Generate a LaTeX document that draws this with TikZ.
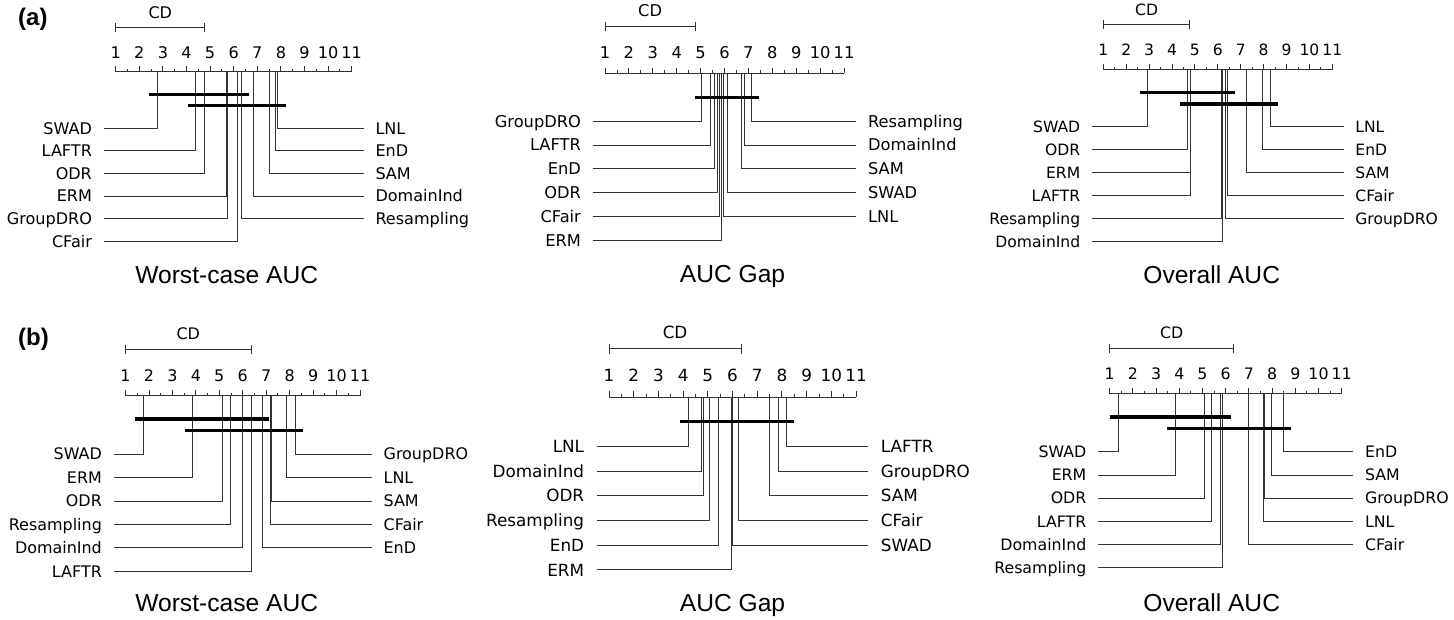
\documentclass[tikz,border=0pt]{standalone}
\usepackage{fontspec}
\setmainfont{Liberation Sans}
\newfontfamily\dejavu{DejaVu Sans}

\tikzset{
  axisline/.style={line width=0.9pt, draw=black!80},
  rankline/.style={line width=0.9pt, draw=black!80},
  cliquebar/.style={line width=3.2pt, draw=black},
  method/.style={inner sep=0pt, text depth=0pt},
  paneltitle/.style={font=\fontsize{24.6}{24.6}\selectfont, inner sep=0pt,
    text height=17.6pt, text depth=0pt},
  panelmark/.style={font=\fontsize{24}{24}\selectfont\bfseries, inner sep=0pt,
    text height=17.2pt, text depth=0pt, anchor=west},
}

% #1 id, #2 origin (rank 0 on the axis), #3 x unit, #4 y unit, #5 CD,
% #6 first row, #7 left methods, #8 right methods, #9 cliques
\newcommand{\cdpanel}[9]{%
  \begin{scope}[shift={(#2)}, x=#3pt, y=-#4pt]
    \pgfmathsetmacro\cdfs{0.68*#3}
    \pgfmathsetmacro\cdth{0.73*\cdfs}
    \tikzset{method/.append style={font={\dejavu\fontsize{\cdfs}{\cdfs}\selectfont},
      text height=\cdth pt}}
    % axis
    \coordinate (#1-lo) at (1,0);
    \coordinate (#1-hi) at (11,0);
    \draw[axisline] (#1-lo) -- (#1-hi);
    \foreach \tk in {1,...,11} {
      \draw[axisline] (\tk,0) -- (\tk,-0.24);
      \node[method] (#1-t\tk) at (\tk,-0.86) {\tk};
    }
    \foreach \tk in {1.5,2.5,...,10.5}
      \draw[axisline] (\tk,0) -- (\tk,-0.12);
    % critical difference
    \coordinate (#1-cda) at (1,-1.96);
    \coordinate (#1-cdb) at (1+#5,-1.96);
    \draw[axisline] (#1-cda) -- (#1-cdb);
    \draw[axisline] ([yshift=-0.2*#4pt]#1-cda) -- ([yshift=0.2*#4pt]#1-cda);
    \draw[axisline] ([yshift=-0.2*#4pt]#1-cdb) -- ([yshift=0.2*#4pt]#1-cdb);
    \node[method] (#1-cd) at (1+#5/2,-2.62) {CD};
    % methods
    \foreach \mth/\rk [count=\i] in {#7} {
      \pgfmathsetmacro\ry{#6+\i-1}
      \coordinate (#1-\mth-r) at (\rk,0);
      \coordinate (#1-\mth-e) at (0.5,\ry);
      \node[method, anchor=east] (#1-\mth) at (0,\ry) {\mth};
      \draw[rankline] (#1-\mth-r) |- (#1-\mth-e);
    }
    \foreach \mth/\rk [count=\i] in {#8} {
      \pgfmathsetmacro\ry{#6+\i-1}
      \coordinate (#1-\mth-r) at (\rk,0);
      \coordinate (#1-\mth-e) at (11.5,\ry);
      \node[method, anchor=west] (#1-\mth) at (12,\ry) {\mth};
      \draw[rankline] (#1-\mth-r) |- (#1-\mth-e);
    }
    % cliques
    \foreach \ca/\cb [count=\k] in {#9} {
      \pgfmathsetmacro\cy{0.5+0.5*\k}
      \coordinate (#1-c\k-a) at (\ca,\cy);
      \coordinate (#1-c\k-b) at (\cb,\cy);
      \draw[cliquebar] (#1-c\k-a) -- (#1-c\k-b);
    }
  \end{scope}}

\begin{document}
\begin{tikzpicture}[x=1pt, y=-1pt]
  \useasboundingbox (0,0) rectangle (1454,620);

  \node[panelmark] (mark-a) at (18,17) {(a)};
  \node[panelmark] (mark-b) at (18,337) {(b)};

  % (a)
  \cdpanel{aw}{92.1,71.7}{23.6}{22.6}{3.78}{2.5}
    {SWAD/2.75, LAFTR/4.39, ODR/4.74, ERM/5.70, GroupDRO/5.73, CFair/6.14}
    {LNL/7.86, EnD/7.77, SAM/7.53, DomainInd/6.85, Resampling/6.34}
    {2.43/6.66, 4.05/8.20}
  \cdpanel{ag}{581.1,73.3}{23.9}{23.9}{3.78}{2.0}
    {GroupDRO/5.05, LAFTR/5.40, EnD/5.59, ODR/5.72, CFair/5.79, ERM/5.88}
    {Resampling/7.12, DomainInd/6.84, SAM/6.69, SWAD/6.11, LNL/5.96}
    {4.75/7.44}
  \cdpanel{ao}{1080.4,69.7}{22.9}{22.9}{3.78}{2.5}
    {SWAD/2.94, ODR/4.68, ERM/4.80, LAFTR/4.82, Resampling/6.15, DomainInd/6.21}
    {LNL/8.30, EnD/7.94, SAM/7.24, CFair/6.41, GroupDRO/6.34}
    {2.60/6.74, 4.36/8.61}

  % (b)
  \cdpanel{bw}{102.05,395.5}{23.45}{23.45}{5.35}{2.5}
    {SWAD/1.75, ERM/3.87, ODR/5.12, Resampling/5.49, DomainInd/5.99, LAFTR/6.38}
    {GroupDRO/8.24, LNL/7.87, SAM/7.23, CFair/7.17, EnD/6.82}
    {1.42/7.13, 3.55/8.55}
  \cdpanel{bg}{584.3,397}{24.7}{24.7}{5.35}{2.0}
    {LNL/4.20, DomainInd/4.76, ODR/4.81, Resampling/5.05, EnD/5.45, ERM/5.95}
    {LAFTR/8.18, GroupDRO/7.88, SAM/7.50, CFair/6.24, SWAD/6.00}
    {3.87/8.50}
  \cdpanel{bo}{1086.5,393.8}{23.2}{23.2}{5.35}{2.5}
    {SWAD/1.36, ERM/3.82, ODR/5.07, LAFTR/5.37, DomainInd/5.76, Resampling/5.86}
    {EnD/8.50, SAM/7.99, GroupDRO/7.65, LNL/7.62, CFair/7.00}
    {1.03/6.21, 3.49/8.83}

  % titles
  \node[paneltitle] (title-aw) at (226.7,275) {Worst-case AUC};
  \node[paneltitle] (title-ag) at (732.5,274) {AUC Gap};
  \node[paneltitle] (title-ao) at (1211.7,275) {Overall AUC};
  \node[paneltitle] (title-bw) at (226.7,602.3) {Worst-case AUC};
  \node[paneltitle] (title-bg) at (732.5,602.3) {AUC Gap};
  \node[paneltitle] (title-bo) at (1211.7,602.3) {Overall AUC};
\end{tikzpicture}
\end{document}
